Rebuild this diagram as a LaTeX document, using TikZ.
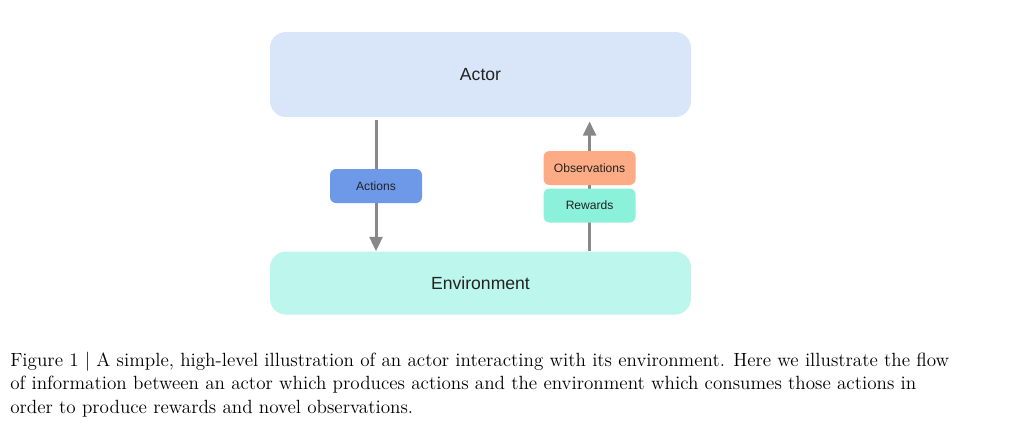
\documentclass[tikz,border=0pt]{standalone}
\usepackage{fontspec}
\newfontfamily\diagfont{Liberation Sans}
\usepackage{xcolor}
\usetikzlibrary{arrows.meta, positioning}
\definecolor{actorblue}{HTML}{D9E5F8}
\definecolor{envgreen}{HTML}{BDF6EC}
\definecolor{actionblue}{HTML}{6E99E8}
\definecolor{obsorange}{HTML}{FDAB84}
\definecolor{rewardgreen}{HTML}{8BF1DA}
\definecolor{arrowgray}{HTML}{888888}
\definecolor{labeltext}{HTML}{222222}

\begin{document}
\begin{tikzpicture}[
    bigbox/.style={rectangle, minimum width=10.525cm, text centered, rounded corners=0.4cm, font=\diagfont\fontsize{12.5}{15}\selectfont, text=labeltext},
    tagbox/.style={rectangle, minimum width=2.3cm, minimum height=0.85cm, text centered, rounded corners=0.15cm, font=\diagfont\fontsize{8.6}{10}\selectfont, text=labeltext},
    arrow/.style={-{Triangle[width=0.32cm, length=0.36cm]}, line width=0.075cm, arrowgray}
]
\useasboundingbox (0,0) rectangle (25.4,-10.725);

\node[bigbox, fill=actorblue, minimum height=2.125cm] (actor) at (12.0125,-1.8625) {Actor};
\node[bigbox, fill=envgreen, minimum height=1.575cm, below=3.35cm of actor] (env) {Environment};

\draw[arrow, shorten <=0.075cm] (actor.south -| 9.4,0) -- (env.north -| 9.4,0);
\draw[arrow, shorten >=0.1cm] (env.north -| 14.74,0) -- (actor.south -| 14.74,0);

\node[tagbox, fill=actionblue] (actions) at (9.4,-4.65) {Actions};
\node[tagbox, fill=obsorange] (obs) at (14.74,-4.2) {Observations};
\node[tagbox, fill=rewardgreen, below=0.075cm of obs] (rewards) {Rewards};

% caption, base anchor sits on the last line
\node[anchor=base west, align=left, inner sep=0pt, font=\fontsize{13.6}{16.7}\selectfont] (caption) at (0.25,-10.325)
  {Figure 1 | A simple, high-level illustration of an actor interacting with its environment. Here we illustrate the flow\\
   of information between an actor which produces actions and the environment which consumes those actions in\\
   order to produce rewards and novel observations.};

\end{tikzpicture}
\end{document}
